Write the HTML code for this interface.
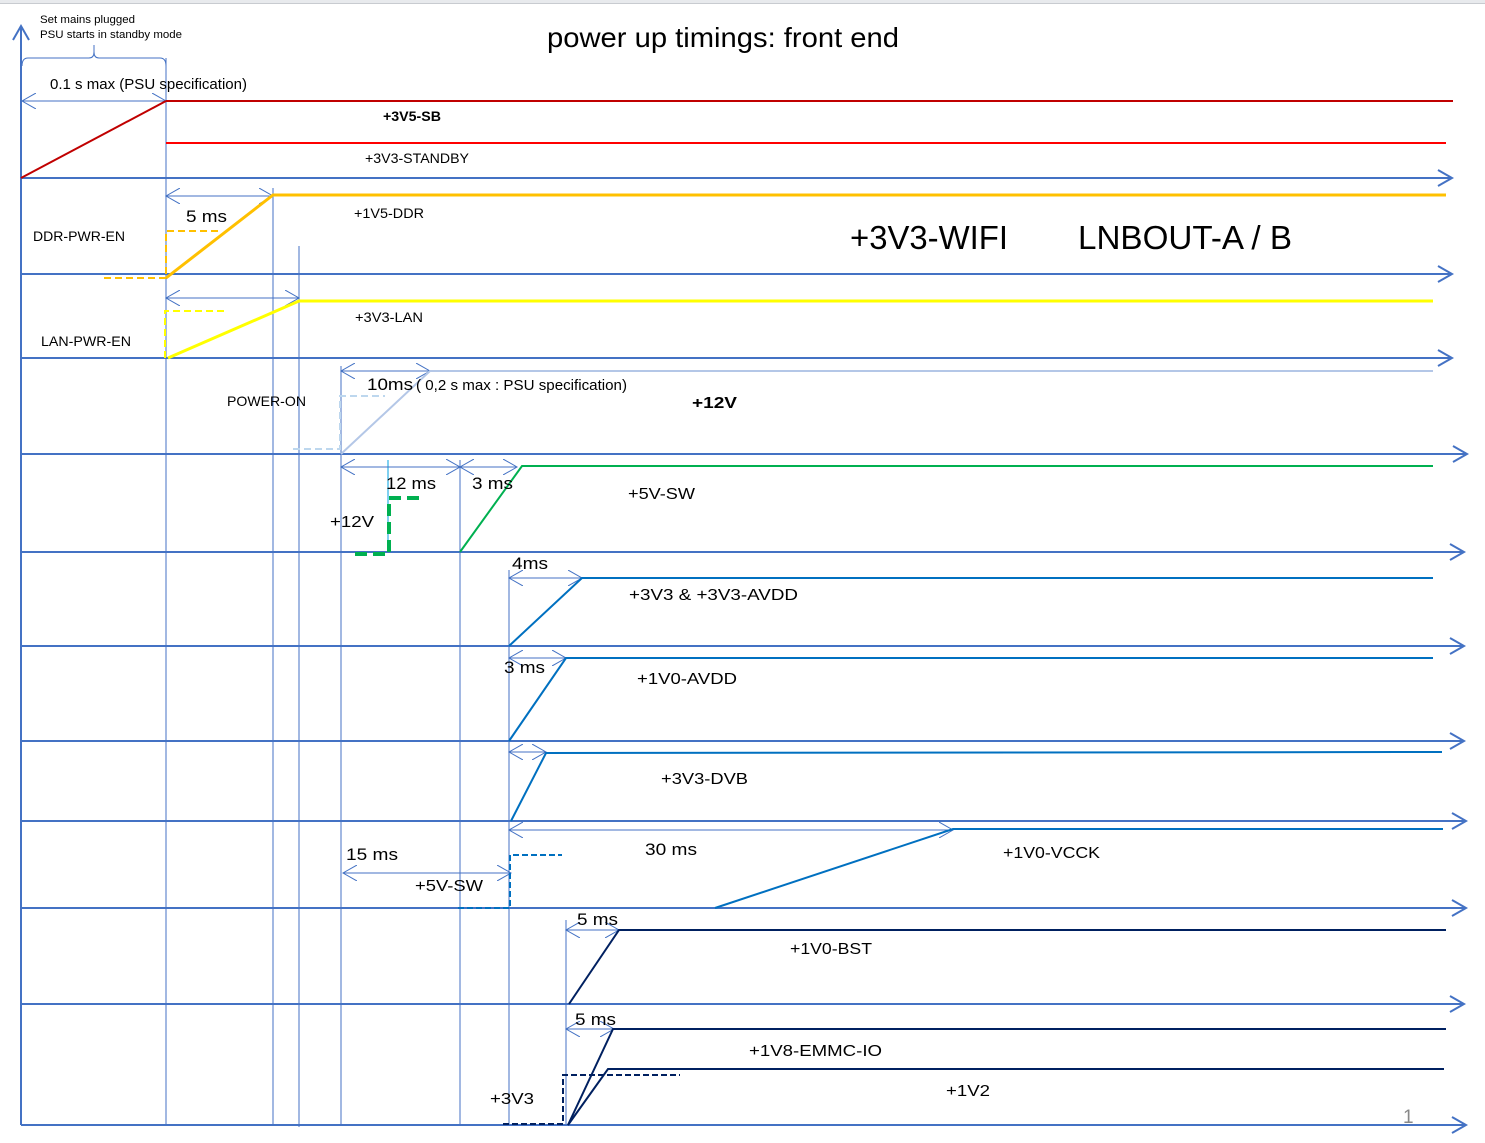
<!DOCTYPE html>
<html><head><meta charset="utf-8"><style>
html,body{margin:0;padding:0;background:#fff;}
svg{display:block;}
text{font-family:"Liberation Sans",sans-serif;fill:#000;}
</style></head><body>
<svg width="1485" height="1143" viewBox="0 0 1485 1143" xmlns="http://www.w3.org/2000/svg">
<defs>
<marker id="ah" markerUnits="userSpaceOnUse" markerWidth="16" markerHeight="16" refX="14" refY="8" orient="auto-start-reverse">
<path d="M0,0 L14,8 L0,16" fill="none" stroke="#4472c4" stroke-width="1"/>
</marker>
<marker id="ax" markerUnits="userSpaceOnUse" markerWidth="18" markerHeight="20" refX="15" refY="9" orient="auto">
<path d="M1,1 L15,9 L1,17" fill="none" stroke="#4472c4" stroke-width="2"/>
</marker>
</defs>
<rect x="0" y="0" width="1485" height="3" fill="#e8eaed"/>
<line x1="0" y1="3.5" x2="1485" y2="3.5" stroke="#c8cbd0" stroke-width="1"/>

<line x1="21" y1="1125" x2="21" y2="26" stroke="#4472c4" stroke-width="2" marker-end="url(#ax)"/>

<g stroke="#4472c4" stroke-width="2" marker-end="url(#ax)">
<line x1="21" y1="178" x2="1452" y2="178"/>
<line x1="21" y1="274" x2="1452" y2="274"/>
<line x1="21" y1="358" x2="1452" y2="358"/>
<line x1="21" y1="454" x2="1467" y2="454"/>
<line x1="21" y1="552" x2="1464" y2="552"/>
<line x1="21" y1="646" x2="1464" y2="646"/>
<line x1="21" y1="741" x2="1464" y2="741"/>
<line x1="21" y1="821" x2="1466" y2="821"/>
<line x1="21" y1="908" x2="1466" y2="908"/>
<line x1="21" y1="1004" x2="1464" y2="1004"/>
<line x1="21" y1="1125" x2="1466" y2="1125"/>
</g>

<g stroke="#4472c4" stroke-width="1">
<line x1="166" y1="58" x2="166" y2="1125"/>
<line x1="273" y1="188" x2="273" y2="1125"/>
<line x1="299" y1="246" x2="299" y2="1127"/>
<line x1="341" y1="366" x2="341" y2="1125"/>
<line x1="460" y1="460" x2="460" y2="1125"/>
<line x1="509" y1="570" x2="509" y2="1125"/>
<line x1="566" y1="920" x2="566" y2="1125"/>
<line x1="388" y1="460" x2="388" y2="552" stroke="#00a0e0"/>
</g>

<path d="M22,66 Q22,58 28,58 L89,58 Q94,58 94,52 L94,45 L94,52 Q94,58 99,58 L160,58 Q166,58 166,66" fill="none" stroke="#4472c4" stroke-width="1"/>

<g stroke="#4472c4" stroke-width="1" marker-start="url(#ah)" marker-end="url(#ah)">
<line x1="22" y1="101" x2="166" y2="101"/>
<line x1="166" y1="196" x2="273" y2="196"/>
<line x1="166" y1="298" x2="299" y2="298"/>
<line x1="341" y1="371" x2="430" y2="371"/>
<line x1="341" y1="467" x2="460" y2="467"/>
<line x1="460" y1="467" x2="517" y2="467"/>
<line x1="509" y1="578" x2="582" y2="578"/>
<line x1="509" y1="658" x2="566" y2="658"/>
<line x1="509" y1="752" x2="546" y2="752"/>
<line x1="509" y1="830" x2="953" y2="830"/>
<line x1="343" y1="873" x2="511" y2="873"/>
<line x1="566" y1="930" x2="619" y2="930"/>
<line x1="566" y1="1029" x2="614" y2="1029"/>
</g>

<line x1="21" y1="178" x2="166" y2="101" stroke="#c00000" stroke-width="2"/>
<line x1="166" y1="101" x2="1453" y2="101" stroke="#c00000" stroke-width="2"/>
<line x1="166" y1="143" x2="1446" y2="143" stroke="#ff0000" stroke-width="2"/>

<polyline points="166,278 273,195 1446,195" fill="none" stroke="#ffc000" stroke-width="3"/>
<polyline points="104,278 166,278 166,231 222,231" fill="none" stroke="#ffc000" stroke-width="2" stroke-dasharray="7,4"/>

<polyline points="168,358 299,301 1433,301" fill="none" stroke="#ffff00" stroke-width="3"/>
<polyline points="165,358 165,311 228,311" fill="none" stroke="#ffff00" stroke-width="2" stroke-dasharray="7,4"/>

<polyline points="341,454 430,371 1433,371" fill="none" stroke="#b4c7e7" stroke-width="2"/>
<polyline points="293,449 340,449 340,396 385,396" fill="none" stroke="#bdd7ee" stroke-width="2" stroke-dasharray="7,4"/>

<polyline points="460,552 522,466 1433,466" fill="none" stroke="#00b050" stroke-width="2"/>
<polyline points="355,554 389,554 389,498 424,498" fill="none" stroke="#00b050" stroke-width="4" stroke-dasharray="12,6"/>

<g fill="none" stroke="#0070c0" stroke-width="2">
<polyline points="509,646 582,578 1433,578"/>
<polyline points="509,741 566,658 1433,658"/>
<polyline points="511,821 546,753 1442,752"/>
<polyline points="715,908 953,829 1443,829"/>
<polyline points="458,908 510,908 510,855 562,855" stroke-dasharray="6,3"/>
</g>

<g fill="none" stroke="#002060" stroke-width="2">
<polyline points="569,1004 619,930 1446,930"/>
<polyline points="568,1125 613,1029 1446,1029"/>
<polyline points="568,1125 608,1069 1444,1069"/>
<polyline points="503,1124 563,1124 563,1075 680,1075" stroke-dasharray="6,3"/>
</g>

<g lengthAdjust="spacingAndGlyphs">
<text x="40" y="23" font-size="11" textLength="95" lengthAdjust="spacingAndGlyphs">Set mains plugged</text>
<text x="40" y="38" font-size="11" textLength="142" lengthAdjust="spacingAndGlyphs">PSU starts in standby mode</text>
<text x="723" y="47" font-size="28" text-anchor="middle" textLength="352" lengthAdjust="spacingAndGlyphs">power up timings: front end</text>
<text x="50" y="89" font-size="15" textLength="197" lengthAdjust="spacingAndGlyphs">0.1 s max (PSU specification)</text>
<text x="383" y="121" font-size="14" font-weight="bold" textLength="58" lengthAdjust="spacingAndGlyphs">+3V5-SB</text>
<text x="365" y="163" font-size="14" textLength="104" lengthAdjust="spacingAndGlyphs">+3V3-STANDBY</text>
<text x="186" y="222" font-size="17" textLength="41" lengthAdjust="spacingAndGlyphs">5 ms</text>
<text x="354" y="218" font-size="14" textLength="70" lengthAdjust="spacingAndGlyphs">+1V5-DDR</text>
<text x="33" y="241" font-size="14" textLength="92" lengthAdjust="spacingAndGlyphs">DDR-PWR-EN</text>
<text x="850" y="249" font-size="33" textLength="158" lengthAdjust="spacingAndGlyphs">+3V3-WIFI</text>
<text x="1078" y="249" font-size="33" textLength="214" lengthAdjust="spacingAndGlyphs">LNBOUT-A / B</text>
<text x="355" y="322" font-size="14" textLength="68" lengthAdjust="spacingAndGlyphs">+3V3-LAN</text>
<text x="41" y="346" font-size="14" textLength="90" lengthAdjust="spacingAndGlyphs">LAN-PWR-EN</text>
<text x="367" y="390" font-size="17" textLength="46" lengthAdjust="spacingAndGlyphs">10ms</text>
<text x="416" y="390" font-size="15" textLength="211" lengthAdjust="spacingAndGlyphs">( 0,2 s max : PSU specification)</text>
<text x="227" y="406" font-size="14" textLength="79" lengthAdjust="spacingAndGlyphs">POWER-ON</text>
<text x="692" y="408" font-size="16" font-weight="bold" textLength="45" lengthAdjust="spacingAndGlyphs">+12V</text>
<text x="386" y="489" font-size="17" textLength="50" lengthAdjust="spacingAndGlyphs">12 ms</text>
<text x="472" y="489" font-size="17" textLength="41" lengthAdjust="spacingAndGlyphs">3 ms</text>
<text x="628" y="499" font-size="16" textLength="67" lengthAdjust="spacingAndGlyphs">+5V-SW</text>
<text x="330" y="527" font-size="16" textLength="44" lengthAdjust="spacingAndGlyphs">+12V</text>
<text x="512" y="569" font-size="17" textLength="36" lengthAdjust="spacingAndGlyphs">4ms</text>
<text x="629" y="600" font-size="16" textLength="169" lengthAdjust="spacingAndGlyphs">+3V3 &amp; +3V3-AVDD</text>
<text x="504" y="673" font-size="17" textLength="41" lengthAdjust="spacingAndGlyphs">3 ms</text>
<text x="637" y="684" font-size="16" textLength="100" lengthAdjust="spacingAndGlyphs">+1V0-AVDD</text>
<text x="661" y="784" font-size="16" textLength="87" lengthAdjust="spacingAndGlyphs">+3V3-DVB</text>
<text x="346" y="860" font-size="17" textLength="52" lengthAdjust="spacingAndGlyphs">15 ms</text>
<text x="645" y="855" font-size="17" textLength="52" lengthAdjust="spacingAndGlyphs">30 ms</text>
<text x="1003" y="858" font-size="16" textLength="97" lengthAdjust="spacingAndGlyphs">+1V0-VCCK</text>
<text x="415" y="891" font-size="16" textLength="68" lengthAdjust="spacingAndGlyphs">+5V-SW</text>
<text x="577" y="925" font-size="17" textLength="41" lengthAdjust="spacingAndGlyphs">5 ms</text>
<text x="790" y="954" font-size="16" textLength="82" lengthAdjust="spacingAndGlyphs">+1V0-BST</text>
<text x="575" y="1025" font-size="17" textLength="41" lengthAdjust="spacingAndGlyphs">5 ms</text>
<text x="749" y="1056" font-size="16" textLength="133" lengthAdjust="spacingAndGlyphs">+1V8-EMMC-IO</text>
<text x="946" y="1096" font-size="16" textLength="44" lengthAdjust="spacingAndGlyphs">+1V2</text>
<text x="490" y="1104" font-size="16" textLength="44" lengthAdjust="spacingAndGlyphs">+3V3</text>
<text x="1403" y="1123" font-size="19" style="fill:#888">1</text>
</g>
</svg>
</body></html>
